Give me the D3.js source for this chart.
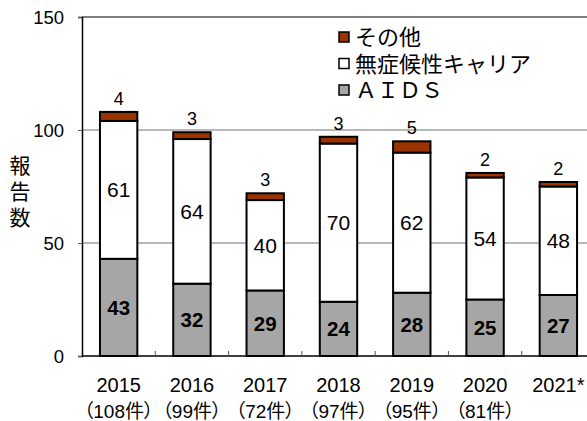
<!DOCTYPE html>
<html><head><meta charset="utf-8">
<script src="https://cdn.jsdelivr.net/npm/d3@7/dist/d3.min.js"></script>
<style>
html,body{margin:0;padding:0;background:#fff;overflow:hidden;}
text{font-family:"Liberation Sans","Noto Sans CJK JP",sans-serif;}
.palt{font-feature-settings:"palt" 1;}
</style></head>
<body>
<svg id="c" width="587" height="421"></svg>
<script>
const years = ["2015","2016","2017","2018","2019","2020","2021*"];
const totalsLabel = ["（108件）","（99件）","（72件）","（97件）","（95件）","（81件）",""];
const aids = [43,32,29,24,28,25,27];
const carrier = [61,64,40,70,62,54,48];
const other = [4,3,3,3,5,2,2];
const seriesNames = ["その他","無症候性キャリア","ＡＩＤＳ"];
const yTicks = [0,50,100,150];

const svg = d3.select("#c");
const L = 82, R = 595, T = 17, B = 356;
const x = d3.scaleBand().domain(years).range([L, R]).paddingInner(0.49).paddingOuter(0.245);
const xb = d3.scaleBand().domain(years).range([L, R]);
const y = d3.scaleLinear().domain([0,150]).range([B, T]);
const NUM = "'Liberation Sans',Arial,sans-serif";
const JP = "'Noto Sans CJK JP',sans-serif";

// gridlines
svg.append("g").selectAll("line").data([50,100]).join("line")
  .attr("x1", L).attr("x2", R).attr("y1", d=>y(d)).attr("y2", d=>y(d))
  .attr("stroke", "#a0a0a0").attr("stroke-width", 1.3);
// top border
svg.append("line").attr("x1", L).attr("x2", R).attr("y1", y(150)).attr("y2", y(150))
  .attr("stroke", "#555").attr("stroke-width", 1.5);

// y axis
const ya = svg.append("g").attr("transform", `translate(${L},0)`)
  .call(d3.axisLeft(y).tickValues(yTicks).tickSize(4).tickPadding(14));
ya.select(".domain").attr("stroke", "#000").attr("stroke-width", 1.5);
ya.selectAll(".tick line").attr("stroke", "#555");
ya.selectAll(".tick text").attr("font-size", 18.5).attr("fill", "#000")
  .attr("font-family", NUM).attr("dy","0.36em");

// y label
const yl = svg.append("text").attr("text-anchor","middle")
  .attr("font-size", 21).attr("font-family", JP);
["報","告","数"].forEach((ch,i)=>{
  yl.append("tspan").attr("x",20).attr("y", 173 + i*26).text(ch);
});

// stacked bars
const stackData = years.map((yr,i)=>({yr, aids: aids[i], carrier: carrier[i], other: other[i]}));
const stack = d3.stack().keys(["aids","carrier","other"])(stackData);
const colors = {aids:"#a6a6a6", carrier:"#ffffff", other:"#993300"};
svg.append("g").selectAll("g").data(stack).join("g")
  .attr("fill", d=>colors[d.key])
  .selectAll("rect").data(d=>d).join("rect")
  .attr("x", d=>x(d.data.yr)).attr("width", x.bandwidth())
  .attr("y", d=>y(d[1])).attr("height", d=>y(d[0])-y(d[1]))
  .attr("stroke","#000").attr("stroke-width", 2);

// x axis
const xa = svg.append("g").attr("transform", `translate(0,${B})`);
xa.append("line").attr("x1", L).attr("x2", R).attr("y1",0).attr("y2",0).attr("stroke","#000").attr("stroke-width",1.5);
xa.selectAll(".tk").data(years.slice(1)).join("line").attr("class","tk")
  .attr("x1", d=>xb(d)).attr("x2", d=>xb(d)).attr("y1",0).attr("y2",-5).attr("stroke","#555");
xa.selectAll(".yl").data(years).join("text").attr("class","yl")
  .attr("x", d=>xb(d)+xb.bandwidth()/2).attr("y", 36).attr("text-anchor","middle")
  .attr("font-size", 20).attr("font-family", NUM).text(d=>d);
xa.selectAll(".tl").data(years).join("text").attr("class","tl palt")
  .attr("x", d=>xb(d)+xb.bandwidth()/2).attr("y", 62).attr("text-anchor","middle")
  .attr("font-size", 19).attr("font-family", JP)
  .text((d,i)=>totalsLabel[i]);

// labels
const cx = d=>x(d)+x.bandwidth()/2;
const lab = svg.append("g").attr("text-anchor","middle").attr("font-family", NUM);
lab.selectAll(".la").data(stackData).join("text").attr("class","la")
  .attr("x", d=>cx(d.yr)).attr("y", d=>y(d.aids/2)+7.5).attr("font-size",20.5).attr("font-weight","bold").text(d=>d.aids);
lab.selectAll(".lc").data(stackData).join("text").attr("class","lc")
  .attr("x", d=>cx(d.yr)).attr("y", d=>y(d.aids + d.carrier/2)+7.5).attr("font-size",21).text(d=>d.carrier);
lab.selectAll(".lo").data(stackData).join("text").attr("class","lo")
  .attr("x", d=>cx(d.yr)).attr("y", d=>y(d.aids+d.carrier+d.other)-7).attr("font-size",18).text(d=>d.other);

// legend
const lg = svg.append("g").attr("transform","translate(338,37)");
const lc = [colors.other, colors.carrier, colors.aids];
seriesNames.forEach((n,i)=>{
  const g = lg.append("g").attr("transform",`translate(0,${i*26.5})`);
  g.append("rect").attr("x",1).attr("y",-5).attr("width",10).attr("height",10)
    .attr("fill", lc[i]).attr("stroke","#000").attr("stroke-width",1.5);
  g.append("text").attr("x",17).attr("y",8).attr("font-size",22)
    .attr("font-family", JP).text(n);
});
</script>
</body></html>
